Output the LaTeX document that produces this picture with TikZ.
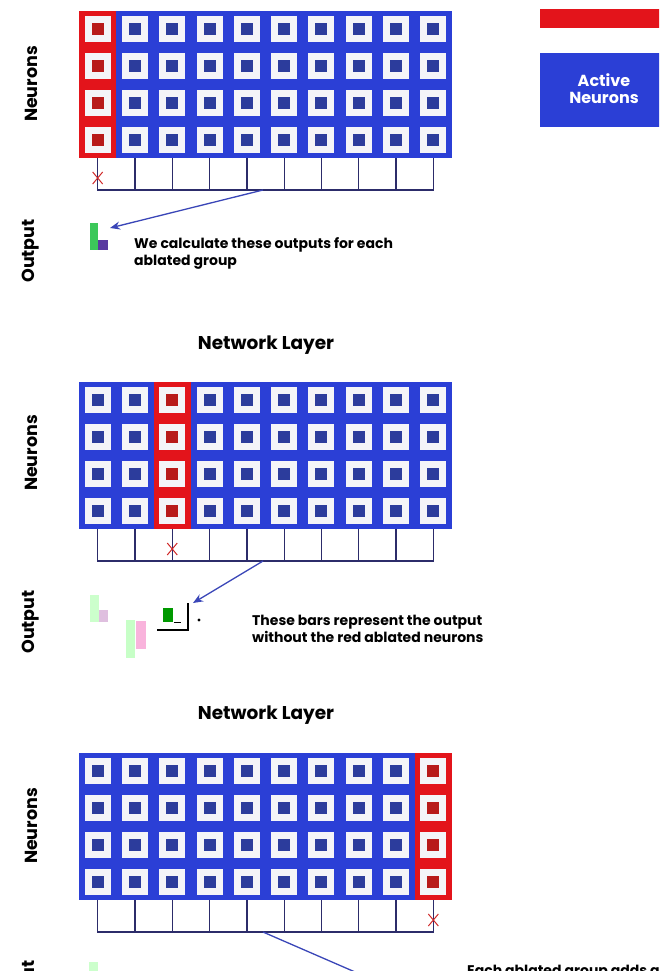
\documentclass[tikz,border=0pt]{standalone}
\usepackage{fontspec}
\setmainfont{Poppins}
\usetikzlibrary{arrows.meta}
\definecolor{gblue}{HTML}{2B3FD6}
\definecolor{gred}{HTML}{E3141B}
\definecolor{cellwhite}{HTML}{F4F4F8}
\definecolor{innerblue}{HTML}{2C3C9C}
\definecolor{innerred}{HTML}{B81A1A}
\definecolor{wirec}{HTML}{2C2C6A}
\definecolor{arrowc}{HTML}{3A46B8}
\definecolor{starc}{HTML}{D02828}
\definecolor{barg}{HTML}{3CC85A}
\definecolor{barp}{HTML}{5A3AA0}
\tikzset{
  wire/.style={draw=wirec, line width=1.3pt},
  arr/.style={draw=arrowc, line width=1.3pt, -{Stealth[length=10pt,width=8pt]}},
  starline/.style={draw=starc, line width=1pt},
  lab/.style={font=\fontsize{14}{17}\selectfont\bfseries, text=black, inner sep=0pt, align=left},
  side/.style={font=\fontsize{17.5}{20}\selectfont\bfseries, text=black, inner sep=0pt, rotate=90},
  title/.style={font=\fontsize{18.5}{21}\selectfont\bfseries, text=black, inner sep=0pt},
}
\newcommand\layerpanel[3]{%
  \fill[gblue] (79,#1) rectangle (452,#1+147);
  \fill[gred] (79+37.3*#2,#1) rectangle (79+37.3*#2+37.3,#1+147);
  \foreach \c in {0,...,9}{
    \foreach \r in {0,...,3}{
      \pgfmathsetmacro\cx{97.65+37.3*\c}
      \pgfmathsetmacro\cy{#1+18.4+36.8*\r}
      \fill[cellwhite] (\cx-13,\cy-13) rectangle (\cx+13,\cy+13);
      \ifnum\c=#2\relax
        \fill[innerred] (\cx-6,\cy-6) rectangle (\cx+6,\cy+6);
      \else
        \fill[innerblue] (\cx-6,\cy-6) rectangle (\cx+6,\cy+6);
      \fi
    }
  }
  \foreach \c in {1,...,8}{
    \pgfmathsetmacro\cx{97.65+37.3*\c}
    \draw[wire] (\cx,#1+147) -- (\cx,#1+179);
  }
  \draw[wire] (97.65,#1+147) -- (97.65,#1+179) -- (433.35,#1+179) -- (433.35,#1+147);
  \pgfmathsetmacro\sx{97.65+37.3*#2}
  \draw[starline] (\sx-5,#1+161) -- (\sx+5,#1+173) (\sx-5,#1+173) -- (\sx+5,#1+161);
  \coordinate (#3s) at (263,#1+179);
}
\begin{document}
\begin{tikzpicture}[x=1pt,y=-1pt]
\useasboundingbox (0,0) rectangle (659,971);
\fill[white] (0,0) rectangle (659,971);
\clip (0,0) rectangle (659,971);

% legend
\fill[gred] (540,9) rectangle (665,28);
\fill[gblue] (540,53) rectangle (665,127);
\node[font=\fontsize{16}{17}\selectfont\bfseries, text=white, align=center, inner sep=0pt] (leg) at (604,89) {Active\\Neurons};

% panel 1
\layerpanel{11}{0}{pa}
\node[side] (n1) at (31,84) {Neurons};
\node[side] (o1) at (31,251) {Output};
\fill[barg] (90,223) rectangle (98,250);
\fill[barp] (98,240) rectangle (108,250);
\coordinate (pae) at (110,228);
\draw[arr] (pas) -- (pae);
\node[lab, anchor=west] (t1) at (134,253.5) {We calculate these outputs for each\\ablated group};

% panel 2
\node[title] (h2) at (266,345) {Network Layer};
\layerpanel{382}{2}{pb}
\node[side] (n2) at (31,453) {Neurons};
\node[side] (o2) at (31,622) {Output};
\fill[green!20] (90,595) rectangle (99,622);
\fill[violet!25] (99,610) rectangle (108,622);
\fill[green!22] (126,620) rectangle (135,658);
\fill[magenta!30] (136,621) rectangle (146,649);
\fill[green!60!black] (163,608) rectangle (173,622);
\draw[black, line width=1pt] (174,622) -- (181,622);
\draw[black, line width=1.2pt] (157,630) -- (188,630) -- (188,603);
\fill[black] (199,620) circle (1.6);
\coordinate (pbe) at (193,603);
\draw[arr] (pbs) -- (pbe);
\node[lab, anchor=west] (t2) at (252,629) {These bars represent the output\\without the red ablated neurons};

% panel 3
\node[title] (h3) at (266,715) {Network Layer};
\layerpanel{753}{9}{pc}
\node[side] (n3) at (31,826) {Neurons};
\node[side] (o3) at (31,992) {Output};
\fill[green!20] (89,962) rectangle (98,975);
\coordinate (pce) at (385,985);
\draw[draw=arrowc, line width=1.3pt] (pcs) -- (pce);
\node[lab, anchor=north west] (t3) at (467,965) {Each ablated group adds a bar};
\end{tikzpicture}
\end{document}
